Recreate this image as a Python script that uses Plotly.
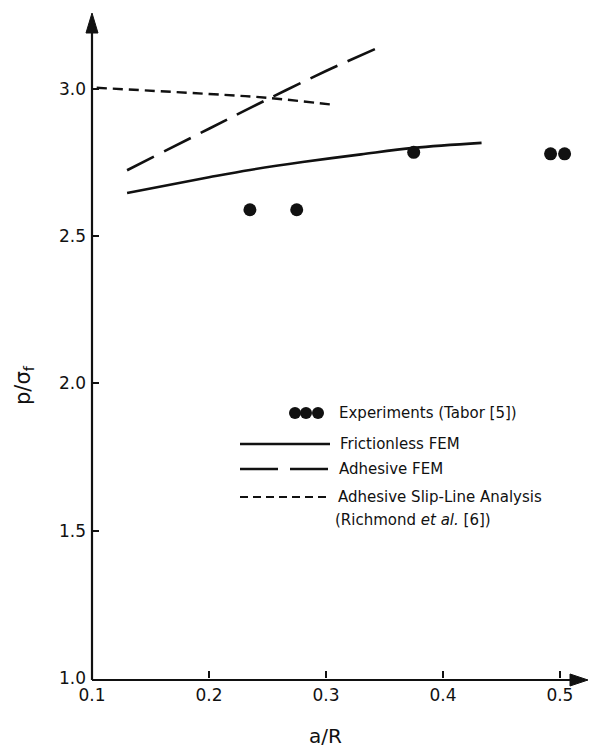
import plotly.graph_objects as go

# ---- data ----
exp_x = [0.235, 0.275, 0.375, 0.492, 0.504]
exp_y = [2.59, 2.59, 2.785, 2.78, 2.78]

frictionless_x = [0.13, 0.20, 0.235, 0.28, 0.33, 0.375, 0.433]
frictionless_y = [2.647, 2.70, 2.725, 2.752, 2.778, 2.80, 2.817]

adhesive_x = [0.13, 0.20, 0.25, 0.30, 0.344]
adhesive_y = [2.724, 2.865, 2.965, 3.061, 3.139]

slipline_x = [0.104, 0.20, 0.25, 0.307]
slipline_y = [3.004, 2.983, 2.97, 2.946]

x_ticks = [0.1, 0.2, 0.3, 0.4, 0.5]
x_ticktext = ["0.1", "0.2", "0.3", "0.4", "0.5"]
y_ticks = [1.0, 1.5, 2.0, 2.5, 3.0]
y_ticktext = ["1.0", "1.5", "2.0", "2.5", "3.0"]

legend_labels = ["Experiments (Tabor [5])", "Frictionless FEM", "Adhesive FEM",
                 "Adhesive Slip-Line Analysis", "(Richmond <i>et al.</i> [6])"]

# ---- layout geometry ----
W, H = 589, 750
ML, MR, MT, MB = 92, 1, 13, 72
XMIN, XMAX = 0.1, 0.524
YMIN, YMAX = 1.0, 3.258
FONT = "'DejaVu Sans', sans-serif"
INK = "#111111"

def px2paper_x(px):
    return (px - ML) / (W - ML - MR)

def px2paper_y(py):
    return (H - MB - py) / (H - MT - MB)

fig = go.Figure()

fig.add_trace(go.Scatter(x=frictionless_x, y=frictionless_y, mode="lines",
                         line=dict(color=INK, width=2.6), line_shape="spline",
                         name="Frictionless FEM", showlegend=False))
fig.add_trace(go.Scatter(x=adhesive_x, y=adhesive_y, mode="lines",
                         line=dict(color=INK, width=2.6, dash="30px,11px"), line_shape="spline",
                         name="Adhesive FEM", showlegend=False))
fig.add_trace(go.Scatter(x=slipline_x, y=slipline_y, mode="lines",
                         line=dict(color=INK, width=2.4, dash="10px,6px"), line_shape="spline",
                         name="Adhesive Slip-Line Analysis", showlegend=False))
fig.add_trace(go.Scatter(x=exp_x, y=exp_y, mode="markers",
                         marker=dict(color=INK, size=13, line=dict(width=0)),
                         name="Experiments", showlegend=False, cliponaxis=False))

shapes = []
annotations = []

# axis lines with filled arrowheads (pixel geometry converted to paper coords)
ax_px, ay_px = 92, 680
shapes.append(dict(type="line", xref="paper", yref="paper",
                   x0=px2paper_x(ax_px), x1=px2paper_x(576),
                   y0=px2paper_y(ay_px), y1=px2paper_y(ay_px),
                   line=dict(color=INK, width=2.2)))
shapes.append(dict(type="line", xref="paper", yref="paper",
                   x0=px2paper_x(ax_px), x1=px2paper_x(ax_px),
                   y0=px2paper_y(ay_px), y1=px2paper_y(28),
                   line=dict(color=INK, width=2.2)))

def tri_path(pts):
    p = " L ".join(f"{px2paper_x(x):.5f},{px2paper_y(y):.5f}" for x, y in pts)
    return "M " + p + " Z"

shapes.append(dict(type="path", xref="paper", yref="paper",
                   path=tri_path([(588, ay_px), (570, ay_px - 6), (570, ay_px + 6)]),
                   fillcolor=INK, line=dict(color=INK, width=1)))
shapes.append(dict(type="path", xref="paper", yref="paper",
                   path=tri_path([(ax_px, 13), (ax_px - 6, 33), (ax_px + 6, 33)]),
                   fillcolor=INK, line=dict(color=INK, width=1)))

# ---- custom legend ----
for cx in [295, 306, 318]:
    shapes.append(dict(type="circle", xref="paper", yref="paper",
                       x0=px2paper_x(cx - 6), x1=px2paper_x(cx + 6),
                       y0=px2paper_y(413 + 6), y1=px2paper_y(413 - 6),
                       fillcolor=INK, line=dict(width=0)))
leg_lines = [(444, "solid", 2.4), (469, "38px,12px", 2.4), (497, "8px,5px", 2.2)]
for ly, dash, w in leg_lines:
    shapes.append(dict(type="line", xref="paper", yref="paper",
                       x0=px2paper_x(240), x1=px2paper_x(330),
                       y0=px2paper_y(ly), y1=px2paper_y(ly),
                       line=dict(color=INK, width=w, dash=dash)))
leg_text_pos = [(337, 413), (338, 444), (337, 469), (336, 497), (333, 520)]
for (tx, ty), lab in zip(leg_text_pos, legend_labels):
    annotations.append(dict(x=px2paper_x(tx), y=px2paper_y(ty), xref="paper", yref="paper",
                            text=lab, showarrow=False, xanchor="left", yanchor="middle",
                            font=dict(family=FONT, size=15, color=INK)))

# axis titles
annotations.append(dict(x=0.3, y=px2paper_y(736), xref="x", yref="paper",
                        text="a/R", showarrow=False, xanchor="center", yanchor="middle",
                        font=dict(family=FONT, size=20, color=INK)))
annotations.append(dict(x=px2paper_x(24), y=px2paper_y(385), xref="paper", yref="paper",
                        text="p/σ<sub>f</sub>", showarrow=False, textangle=-90,
                        xanchor="center", yanchor="middle",
                        font=dict(family=FONT, size=21, color=INK)))

fig.update_layout(
    width=W, height=H,
    margin=dict(l=ML, r=MR, t=MT, b=MB, pad=0),
    paper_bgcolor="white", plot_bgcolor="white",
    shapes=shapes, annotations=annotations,
    showlegend=False,
    xaxis=dict(range=[XMIN, XMAX], tickvals=x_ticks, ticktext=x_ticktext,
               ticks="inside", ticklen=7, tickwidth=1.5, tickcolor=INK,
               ticklabelstandoff=5,
               showgrid=False, zeroline=False, showline=False,
               tickfont=dict(family=FONT, size=17, color=INK)),
    yaxis=dict(range=[YMIN, YMAX], tickvals=y_ticks, ticktext=y_ticktext,
               ticks="inside", ticklen=7, tickwidth=1.5, tickcolor=INK,
               ticklabelstandoff=5,
               showgrid=False, zeroline=False, showline=False,
               tickfont=dict(family=FONT, size=17, color=INK)),
)

fig.write_html("out.html", config={"displayModeBar": False},
               post_script="document.body.style.margin='0';document.body.style.overflow='hidden';")
